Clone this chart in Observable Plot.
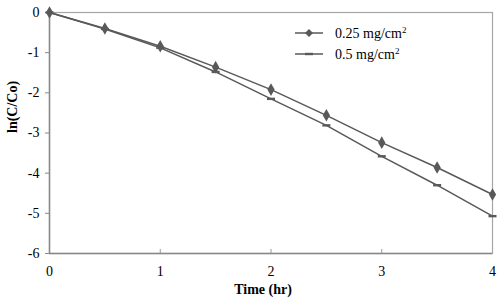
<!DOCTYPE html>
<html><head><meta charset="utf-8">
<script src="https://cdn.jsdelivr.net/npm/d3@7"></script>
<script src="https://cdn.jsdelivr.net/npm/@observablehq/plot@0.6"></script>
<style>
body{margin:0;background:#fff;}
#wrap{position:relative;width:500px;height:303px;font-family:"Liberation Serif","Times New Roman",serif;}
#wrap svg text{font-family:"Liberation Serif","Times New Roman",serif;}
#legend{position:absolute;left:0;top:0;pointer-events:none;}
</style></head>
<body><div id="wrap"></div>
<script>
const times = [0, 0.5, 1, 1.5, 2, 2.5, 3, 3.5, 4];
const s025 = [0, -0.40, -0.84, -1.36, -1.92, -2.56, -3.24, -3.86, -4.53];
const s05 = [0, -0.41, -0.88, -1.48, -2.15, -2.81, -3.58, -4.30, -5.07];
const seriesNames = ["0.25 mg/cm", "0.5 mg/cm"];
const xTicks = [0, 1, 2, 3, 4];
const yTicks = [0, -1, -2, -3, -4, -5, -6];

const d1 = times.map((t, i) => ({t, v: s025[i]}));
const d2 = times.map((t, i) => ({t, v: s05[i]}));
const col = "#595959";
const ff = '"Liberation Serif","Times New Roman",serif';
const dash = {draw(ctx, size){ ctx.rect(-4, -1.2, 8, 2.4); }};

const chart = Plot.plot({
  width: 500, height: 303,
  marginLeft: 49, marginRight: 8, marginTop: 12, marginBottom: 50,
  style: {fontFamily: ff, fontSize: "13px", color: "#000", background: "#fff"},
  x: {domain: [0, 4]},
  y: {domain: [-6, 0]},
  marks: [
    Plot.frame({stroke: "#a6a6a6", strokeWidth: 1.2}),
    Plot.ruleX([0], {stroke: "#888", strokeWidth: 1.5}),
    Plot.ruleY([-6], {stroke: "#888", strokeWidth: 1.5}),
    Plot.ruleX(xTicks.slice(1, 4), {y1: -6, y2: -5.9, stroke: "#999"}),
    Plot.axisY({ticks: yTicks, tickSize: 4, tickPadding: 6, tickFormat: d => String(d), label: null, stroke: "#888", fontSize: 14, fontFamily: ff}),
    Plot.axisX({ticks: xTicks, tickSize: 0, tickPadding: 13, tickFormat: d => String(d), label: null, fontSize: 14, fontFamily: ff}),
    Plot.line(d1, {x: "t", y: "v", stroke: col, strokeWidth: 1.5}),
    Plot.line(d2, {x: "t", y: "v", stroke: col, strokeWidth: 1.5}),
    Plot.dot(d1, {x: "t", y: "v", symbol: "diamond", r: 3.8, fill: col, stroke: null}),
    Plot.dot(d2, {x: "t", y: "v", symbol: dash, fill: col, stroke: null}),
    Plot.text(["ln(C/Co)"], {frameAnchor: "left", dx: -37, rotate: -90, fontWeight: "bold", fontSize: 14, fontFamily: ff}),
    Plot.text(["Time (hr)"], {frameAnchor: "bottom", dx: -8, dy: 40, fontWeight: "bold", fontSize: 14, fontFamily: ff})
  ]
});
const wrap = document.getElementById("wrap");
wrap.appendChild(chart);

// legend
const ns = "http://www.w3.org/2000/svg";
const leg = document.createElementNS(ns, "svg");
leg.setAttribute("id", "legend");
leg.setAttribute("width", 500); leg.setAttribute("height", 303);
const rows = [{y: 33, sym: "diamond"}, {y: 54, sym: "dash"}];
rows.forEach((r, i) => {
  const line = document.createElementNS(ns, "line");
  line.setAttribute("x1", 295); line.setAttribute("x2", 323);
  line.setAttribute("y1", r.y); line.setAttribute("y2", r.y);
  line.setAttribute("stroke", col); line.setAttribute("stroke-width", 1.5);
  leg.appendChild(line);
  const m = document.createElementNS(ns, "path");
  if (r.sym === "diamond") m.setAttribute("d", `M309,${r.y-4}L313,${r.y}L309,${r.y+4}L305,${r.y}Z`);
  else m.setAttribute("d", `M305,${r.y-1.2}h8v2.4h-8Z`);
  m.setAttribute("fill", col);
  leg.appendChild(m);
  const tx = document.createElementNS(ns, "text");
  tx.setAttribute("x", 335); tx.setAttribute("y", r.y + 5);
  tx.setAttribute("font-size", 14);
  tx.setAttribute("font-family", ff);
  tx.textContent = seriesNames[i];
  const sup = document.createElementNS(ns, "tspan");
  sup.setAttribute("dy", -5); sup.setAttribute("font-size", 9);
  sup.textContent = "2";
  tx.appendChild(sup);
  leg.appendChild(tx);
});
wrap.appendChild(leg);
</script></body></html>
